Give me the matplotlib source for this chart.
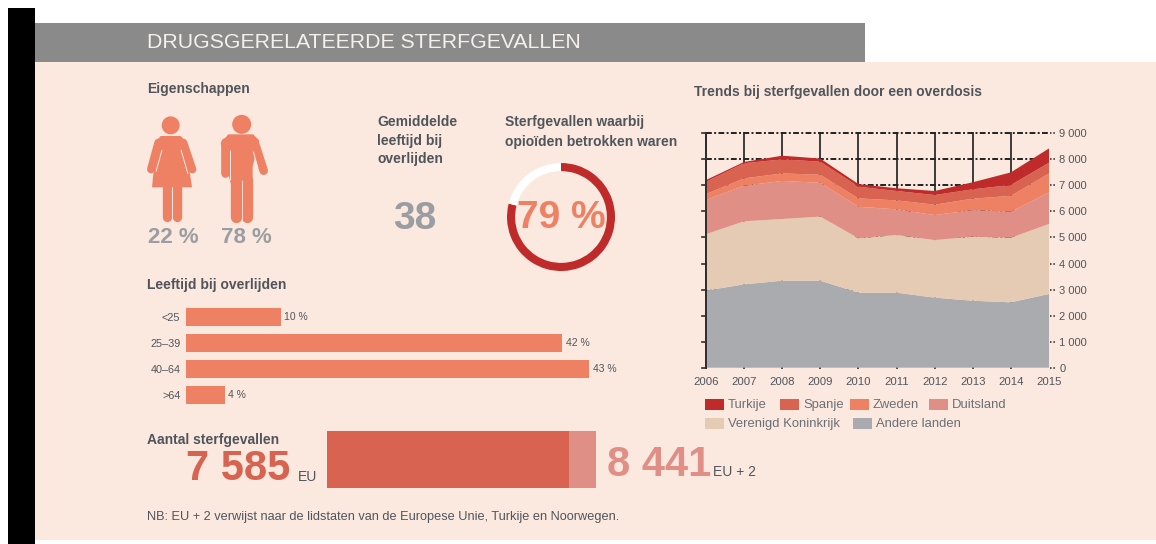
import matplotlib
matplotlib.use("Agg")
import matplotlib.pyplot as plt
from matplotlib.patches import Rectangle, Polygon, Circle

W, H = 1156, 544
plt.rcParams["font.family"] = ["Liberation Sans", "DejaVu Sans"]

# data
years = [2006, 2007, 2008, 2009, 2010, 2011, 2012, 2013, 2014, 2015]
andere = [2960, 3200, 3340, 3340, 2880, 2880, 2690, 2570, 2510, 2830]
verenigd = [2170, 2420, 2370, 2460, 2090, 2215, 2210, 2460, 2480, 2690]
duitsland = [1310, 1370, 1460, 1300, 1210, 985, 960, 1025, 1000, 1210]
zweden = [230, 280, 290, 310, 320, 345, 400, 435, 610, 730]
spanje = [470, 580, 540, 500, 450, 360, 370, 360, 415, 410]
turkije = [65, 50, 140, 120, 100, 105, 155, 270, 485, 550]
y_ticks = [0, 1000, 2000, 3000, 4000, 5000, 6000, 7000, 8000, 9000]
y_tick_labels = ["0", "1 000", "2 000", "3 000", "4 000", "5 000", "6 000", "7 000", "8 000", "9 000"]

age_groups = ["<25", "25–39", "40–64", ">64"]
age_lengths = [10.3, 40.9, 43.8, 4.2]
age_labels = ["10 %", "42 %", "43 %", "4 %"]

opioid_share = [79, 21]
deaths_eu = 7585
deaths_eu2 = 8441

RED = "#BF2A2A"
SPAIN = "#D76350"
ORANGE = "#EE8064"
ROSE = "#E08F86"
SAND = "#E6CBB4"
GREY = "#A9ABAE"
BG = "#FBE9E0"
TXT = "#50555C"
NUM = "#9A9DA1"


def box(x0, y0, x1, y1):
    # pixel box (top-left origin) to figure fraction
    return [x0 / W, 1 - y1 / H, (x1 - x0) / W, (y1 - y0) / H]


def lw(px):
    return px * 0.72


fig = plt.figure(figsize=(W / 100, H / 100), dpi=100, facecolor="white")

back = fig.add_axes([0, 0, 1, 1], zorder=0)
back.set_xlim(0, W)
back.set_ylim(H, 0)
back.axis("off")
front = fig.add_axes([0, 0, 1, 1], zorder=5)
front.set_xlim(0, W)
front.set_ylim(H, 0)
front.axis("off")

back.add_patch(Rectangle((35, 62), W - 35, 478, color=BG, lw=0))
back.add_patch(Rectangle((8, 8), 27, H - 8, color="black", lw=0))
back.add_patch(Rectangle((35, 23), 830, 39, color="#8A8A8A", lw=0))
front.text(147, 42, "DRUGSGERELATEERDE STERFGEVALLEN", color="#F4F0EC", fontsize=15.3,
           va="center", ha="left")


def txt(x, y, s, size=10, color=TXT, weight="normal", ha="left"):
    # va=center sits a bit high for digits and caps, so push down with the size
    front.text(x, y + size * 0.09, s, fontsize=size, color=color, fontweight=weight, ha=ha, va="center")


txt(147, 88, "Eigenschappen", weight="bold")
txt(147, 284, "Leeftijd bij overlijden", weight="bold")
txt(377, 121, "Gemiddelde", weight="bold")
txt(377, 140, "leeftijd bij", weight="bold")
txt(377, 158, "overlijden", weight="bold")
txt(505, 121, "Sterfgevallen waarbij", weight="bold")
txt(505, 141, "opioïden betrokken waren", weight="bold")
txt(694, 91, "Trends bij sterfgevallen door een overdosis", weight="bold")
txt(147, 439, "Aantal sterfgevallen", weight="bold")
txt(415, 216, "38", size=28, color=NUM, weight="bold", ha="center")
txt(173, 236, "22 %", size=16, color=NUM, weight="bold", ha="center")
txt(246, 236, "78 %", size=16, color=NUM, weight="bold", ha="center")
txt(147, 516, "NB: EU + 2 verwijst naar de lidstaten van de Europese Unie, Turkije en Noorwegen.", size=9.2)


# person icons, pixel positions relative to the top-left of the zoomed block
def P(x, y):
    return 130 + x / 3, 100 + y / 3


def limb(p, q, width, color=ORANGE, cap="round"):
    a, b = P(*p), P(*q)
    back.plot([a[0], b[0]], [a[1], b[1]], color=color, lw=lw(width / 3), solid_capstyle=cap)


# woman
back.add_patch(Circle(P(122, 76), 9, color=ORANGE, lw=0))
back.add_patch(Polygon([P(*p) for p in [(92, 108), (152, 108), (165, 122), (186, 262), (66, 262), (80, 122)]],
                       color=ORANGE, lw=0))
limb((85, 128), (63, 208), 24)
limb((160, 128), (187, 208), 24)
limb((96, 150), (78, 215), 3, BG, "butt")
limb((153, 150), (174, 222), 3, BG, "butt")
limb((110, 262), (110, 350), 28)
limb((142, 262), (142, 350), 28)
limb((126, 262), (126, 365), 3, BG, "butt")

# man
back.add_patch(Circle(P(335, 73), 9.5, color=ORANGE, lw=0))
back.add_patch(Polygon([P(*p) for p in [(295, 103), (370, 103), (387, 122), (368, 200), (368, 250), (302, 250), (272, 130)]],
                       color=ORANGE, lw=0))
limb((285, 125), (285, 220), 26)
limb((373, 125), (401, 212), 26)
limb((299, 150), (299, 240), 3, BG, "butt")
limb((370, 155), (384, 205), 3, BG, "butt")
limb((318, 240), (318, 350), 34)
limb((352, 240), (352, 350), 34)
limb((335, 240), (335, 365), 2.5, BG, "butt")

# opioid ring
ring = fig.add_axes(box(507, 163, 615, 271), zorder=2)
ring.pie(opioid_share, colors=[RED, "white"], startangle=90, counterclock=False, radius=1,
         wedgeprops={"width": 0.15, "linewidth": 0})
ring.set_xlim(-1, 1)
ring.set_ylim(-1, 1)
txt(561, 215, "79 %", size=28, color=ORANGE, weight="bold", ha="center")

# age bars
bars = fig.add_axes(box(186, 304, 600, 408), zorder=2)
bars.patch.set_alpha(0)
pos = list(range(len(age_groups)))
bars.barh(pos, age_lengths, height=0.73, color=ORANGE)
bars.set_xlim(0, 45)
bars.set_ylim(3.5, -0.5)
bars.set_yticks(pos)
bars.set_yticklabels(age_groups, fontsize=7.8, color=TXT)
bars.tick_params(axis="y", length=0, pad=4)
bars.set_xticks([])
for s in bars.spines.values():
    s.set_visible(False)
for p, v, lab in zip(pos, age_lengths, age_labels):
    bars.text(v + 0.4, p, lab, fontsize=7.5, color=TXT, va="center")

# total bar
total = fig.add_axes(box(327, 431, 596, 488), zorder=2)
total.patch.set_alpha(0)
total.barh([0], [deaths_eu], height=1, color=SPAIN)
total.barh([0], [deaths_eu2 - deaths_eu], left=[deaths_eu], height=1, color=ROSE)
total.set_xlim(0, deaths_eu2)
total.set_ylim(-0.5, 0.5)
total.axis("off")
txt(290, 466, f"{deaths_eu:,}".replace(",", " "), size=30, color=SPAIN, weight="bold", ha="right")
txt(298, 476, "EU", size=10)
txt(607, 462, f"{deaths_eu2:,}".replace(",", " "), size=30, color=ROSE, weight="bold")
txt(713, 471, "EU + 2", size=10)

# trends
ax = fig.add_axes(box(706, 133.3, 1049, 367.7), zorder=2)
ax.patch.set_alpha(0)
for yr in years[:-1]:
    ax.plot([yr, yr], [0, 9000], color="#2E2E2E", lw=1.3, zorder=1, clip_on=False)
for t in y_ticks[1:]:
    ax.plot([2006, 2015], [t, t], color="#222222", lw=1.4, ls=(0, (3, 1.2, 1, 1.2)), zorder=1, clip_on=False)
ax.stackplot(years, andere, verenigd, duitsland, zweden, spanje, turkije,
             colors=[GREY, SAND, ROSE, ORANGE, SPAIN, RED], lw=0, zorder=2)
ax.set_xlim(2006, 2015)
ax.set_ylim(0, 9000)
ax.set_xticks(years)
ax.set_xticklabels(years, fontsize=8.2, color=TXT)
ax.tick_params(axis="x", length=0, pad=7)
ax.set_yticks(y_ticks)
ax.set_yticklabels(y_tick_labels, fontsize=8, color=TXT)
ax.yaxis.tick_right()
ax.tick_params(axis="y", length=0, pad=7.5)
for s in ax.spines.values():
    s.set_visible(False)
ax.plot([2006, 2006], [0, 9000], color="#2E2E2E", lw=1.4, zorder=3, clip_on=False)
for t in y_ticks:
    ax.plot([2005.9, 2006], [t, t], color="#2E2E2E", lw=1.2, zorder=3, clip_on=False)
    ax.plot([2015.02, 2015.15], [t, t], color="#222222", lw=1.1, ls=(0, (1, 1.2)), zorder=3, clip_on=False)

# legend
legend_items = [
    ("Turkije", RED, 705, 404), ("Spanje", SPAIN, 780, 404), ("Zweden", ORANGE, 850, 404),
    ("Duitsland", ROSE, 929, 404), ("Verenigd Koninkrijk", SAND, 705, 423.5), ("Andere landen", GREY, 853, 423.5),
]
for name, col, x, y in legend_items:
    front.add_patch(Rectangle((x, y - 5.5), 18.5, 11, color=col, lw=0))
    txt(x + 23, y, name, size=9.4, color="#6B6F75")

fig.savefig("out.png", dpi=100, facecolor="white")
